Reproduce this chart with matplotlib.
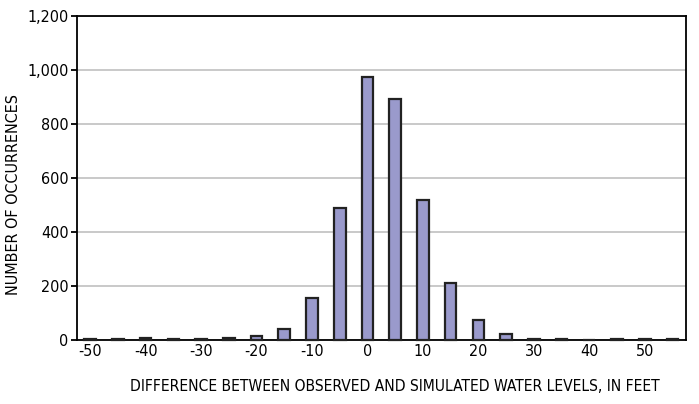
import numpy as np
import matplotlib.pyplot as plt
from matplotlib.ticker import FuncFormatter
from matplotlib import font_manager

# ── data ──────────────────────────────────────────────
bins = [-50, -45, -40, -35, -30, -25, -20, -15, -10, -5, 0,
        5, 10, 15, 20, 25, 30, 35, 40, 45, 50, 55]
counts = [3, 3, 8, 3, 5, 8, 15, 42, 158, 490, 975,
          895, 520, 212, 75, 22, 5, 5, 0, 3, 3, 3]
xticks = [-50, -40, -30, -20, -10, 0, 10, 20, 30, 40, 50]
yticks = [0, 200, 400, 600, 800, 1000, 1200]

names = {f.name for f in font_manager.fontManager.ttflist}
fam = "Liberation Sans Narrow" if "Liberation Sans Narrow" in names else "DejaVu Sans"
plt.rcParams["font.family"] = fam
plt.rcParams["font.stretch"] = "condensed"
plt.rcParams["axes.unicode_minus"] = False

fig = plt.figure(figsize=(6.99, 4.04), dpi=100)
ax = fig.add_axes([0.110, 0.158, 0.871, 0.802])

bars = ax.bar(bins, counts, width=2.1, color="#9a9acc", edgecolor="#222222",
              linewidth=1.6, zorder=3)
for b in bars:
    b.set_clip_on(False)

ax.set_xlim(-52.4, 57.4)
ax.set_ylim(0, 1200)
ax.set_xticks(xticks)
ax.set_yticks(yticks)
ax.yaxis.set_major_formatter(FuncFormatter(lambda v, p: f"{int(v):,}"))
ax.grid(axis="y", color="#c0c0c0", linewidth=1.2, zorder=0)

for s in ax.spines.values():
    s.set_linewidth(1.3)
    s.set_color("black")
    s.set_zorder(2)
ax.tick_params(axis="y", length=4, width=1.3, labelsize=11.5, pad=2)
ax.tick_params(axis="x", length=0, labelsize=11.5, pad=3)

ax.set_ylabel("NUMBER OF OCCURRENCES", fontsize=11.5)
ax.yaxis.set_label_coords(-0.092, 0.45)
ax.set_xlabel("DIFFERENCE BETWEEN OBSERVED AND SIMULATED WATER LEVELS, IN FEET",
              fontsize=11.2)
ax.xaxis.set_label_coords(0.522, -0.12)

fig.savefig("out.png", dpi=100)
